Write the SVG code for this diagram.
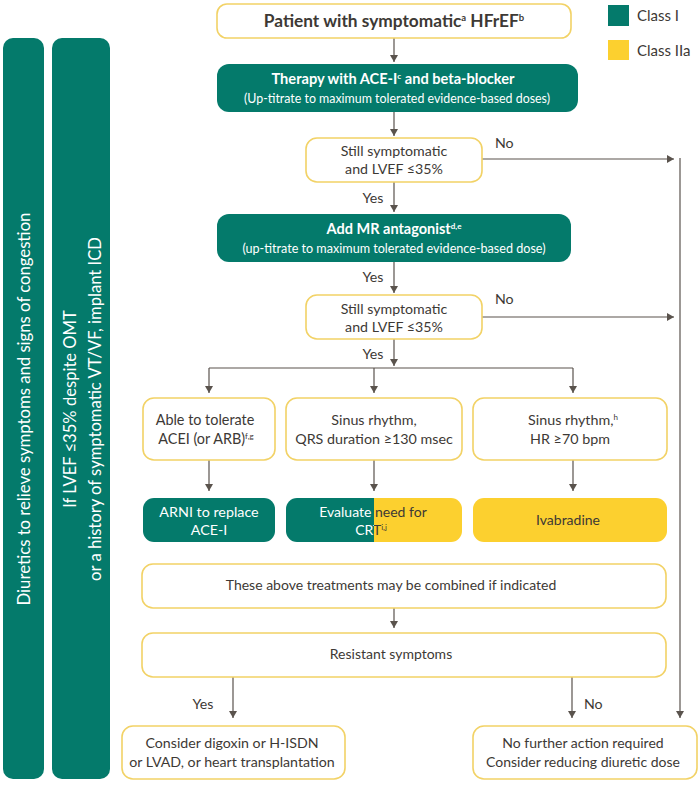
<svg xmlns="http://www.w3.org/2000/svg" width="700" height="786" viewBox="0 0 700 786" font-size="14.2">
<defs>
<style>
text{font-family:Lato,"Open Sans","DejaVu Sans",sans-serif;fill:#3d3935}
.b{font-weight:bold}
.w{fill:#ffffff}
.box{fill:#ffffff;stroke:#f2d266;stroke-width:1.6}
.g{fill:#047a6b}
.y{fill:#fcd02f}
.c{fill:none;stroke:#5a534d;stroke-width:1.2}
</style>
<marker id="ah" markerUnits="userSpaceOnUse" markerWidth="8" markerHeight="8" refX="4" refY="7" orient="0" viewBox="0 0 8 8">
<path d="M0,0 L8,0 L4,7 Z" fill="#5a534d"/>
</marker>
<marker id="ar" markerUnits="userSpaceOnUse" markerWidth="8" markerHeight="8" refX="7" refY="4" orient="0" viewBox="0 0 8 8">
<path d="M0,0 L7,4 L0,8 Z" fill="#5a534d"/>
</marker>
<clipPath id="evalclip"><rect x="286" y="498" width="176" height="44" rx="11"/></clipPath>
<clipPath id="leftc"><rect x="280" y="490" width="94" height="60"/></clipPath>
<clipPath id="rightc"><rect x="374" y="490" width="100" height="60"/></clipPath>
</defs>

<g id="legend">
<rect x="608" y="5" width="21" height="21" class="g"/>
<text x="637" y="21" font-size="15">Class I</text>
<rect x="608" y="40" width="21" height="20" class="y"/>
<text x="637" y="56" font-size="15">Class IIa</text>
</g>

<g id="bar-diuretics">
<rect x="3" y="38" width="41" height="741" rx="10" class="g"/>
<text class="w" transform="translate(29.5,409) rotate(-90)" text-anchor="middle" font-size="16.7">Diuretics to relieve symptoms and signs of congestion</text>
</g>

<g id="bar-icd">
<rect x="52" y="38" width="58" height="741" rx="10" class="g"/>
<text class="w" transform="translate(75.5,409) rotate(-90)" text-anchor="middle" font-size="16.6">If LVEF ≤35% despite OMT</text>
<text class="w" transform="translate(100.5,409) rotate(-90)" text-anchor="middle" font-size="16.6">or a history of symptomatic VT/VF, implant ICD</text>
</g>

<g id="connectors">
<line x1="394" y1="38" x2="394" y2="62" class="c" marker-end="url(#ah)"/>
<line x1="394" y1="112" x2="394" y2="136" class="c" marker-end="url(#ah)"/>
<line x1="394" y1="182" x2="394" y2="212" class="c" marker-end="url(#ah)"/>
<line x1="482" y1="159" x2="674" y2="159" class="c" marker-end="url(#ar)"/>
<line x1="680" y1="158" x2="680" y2="718" class="c" marker-end="url(#ah)"/>
<line x1="394" y1="262" x2="394" y2="293" class="c" marker-end="url(#ah)"/>
<line x1="482" y1="317" x2="674" y2="317" class="c" marker-end="url(#ar)"/>
<line x1="394" y1="339" x2="394" y2="366" class="c" marker-end="url(#ah)"/>
<line x1="209" y1="368" x2="573" y2="368" class="c"/>
<line x1="209" y1="368" x2="209" y2="393" class="c" marker-end="url(#ah)"/>
<line x1="374" y1="368" x2="374" y2="393" class="c" marker-end="url(#ah)"/>
<line x1="573" y1="368" x2="573" y2="393" class="c" marker-end="url(#ah)"/>
<line x1="209" y1="460" x2="209" y2="491" class="c" marker-end="url(#ah)"/>
<line x1="374" y1="460" x2="374" y2="491" class="c" marker-end="url(#ah)"/>
<line x1="573" y1="460" x2="573" y2="491" class="c" marker-end="url(#ah)"/>
<line x1="394" y1="608" x2="394" y2="628" class="c" marker-end="url(#ah)"/>
<line x1="233" y1="677" x2="233" y2="718" class="c" marker-end="url(#ah)"/>
<line x1="572" y1="677" x2="572" y2="718" class="c" marker-end="url(#ah)"/>
<text x="495" y="148">No</text>
<text x="495" y="304">No</text>
<text x="373" y="203" text-anchor="middle">Yes</text>
<text x="373" y="282" text-anchor="middle">Yes</text>
<text x="373" y="359" text-anchor="middle">Yes</text>
<text x="203" y="709" text-anchor="middle">Yes</text>
<text x="584" y="709">No</text>
</g>

<g id="start">
<rect x="217" y="4" width="354" height="34" rx="10" class="box"/>
<text x="394" y="27" text-anchor="middle" class="b" font-size="17.3">Patient with symptomatic<tspan font-size="9.5" dy="-6">a</tspan><tspan dy="6"> HFrEF</tspan><tspan font-size="9.5" dy="-6">b</tspan></text>
</g>

<g id="therapy">
<rect x="217" y="64" width="361" height="48" rx="12" class="g"/>
<text x="393" y="84" text-anchor="middle" class="b w" font-size="14.6">Therapy with ACE-I<tspan font-size="8" dy="-5" class="w">c</tspan><tspan dy="5" class="w"> and beta-blocker</tspan></text>
<text x="397" y="103" text-anchor="middle" class="w" font-size="12.4">(Up-titrate to maximum tolerated evidence-based doses)</text>
</g>

<g id="decision1">
<rect x="306" y="138" width="176" height="44" rx="11" class="box"/>
<text x="394" y="156" text-anchor="middle">Still symptomatic</text>
<text x="394" y="174" text-anchor="middle">and LVEF ≤35%</text>
</g>

<g id="mra">
<rect x="217" y="214" width="354" height="48" rx="12" class="g"/>
<text x="394" y="234" text-anchor="middle" class="b w" font-size="14.5">Add MR antagonist<tspan font-size="8" dy="-5" class="w">d,e</tspan></text>
<text x="394" y="253" text-anchor="middle" class="w" font-size="12.6">(up-titrate to maximum tolerated evidence-based dose)</text>
</g>

<g id="decision2">
<rect x="306" y="295" width="176" height="44" rx="11" class="box"/>
<text x="394" y="314" text-anchor="middle">Still symptomatic</text>
<text x="394" y="332" text-anchor="middle">and LVEF ≤35%</text>
</g>

<g id="tolerate">
<rect x="143" y="398" width="132" height="62" rx="11" class="box"/>
<text x="205" y="425" text-anchor="middle" font-size="14.4">Able to tolerate</text>
<text x="206" y="444" text-anchor="middle" font-size="14.4">ACEI (or ARB)<tspan font-size="8" dy="-5">f,g</tspan></text>
</g>

<g id="qrs">
<rect x="286" y="398" width="176" height="62" rx="11" class="box"/>
<text x="374" y="425" text-anchor="middle" font-size="14.3">Sinus rhythm,</text>
<text x="374" y="444" text-anchor="middle" font-size="14.3">QRS duration ≥130 msec</text>
</g>

<g id="hr">
<rect x="473" y="398" width="194" height="62" rx="11" class="box"/>
<text x="573" y="425" text-anchor="middle" font-size="14.3">Sinus rhythm,<tspan font-size="8" dy="-5">h</tspan></text>
<text x="570" y="444" text-anchor="middle" font-size="14.3">HR ≥70 bpm</text>
</g>

<g id="arni">
<rect x="143" y="498" width="132" height="44" rx="11" class="g"/>
<text x="209" y="517" text-anchor="middle" class="w" font-size="14.3">ARNI to replace</text>
<text x="209" y="535" text-anchor="middle" class="w" font-size="14.3">ACE-I</text>
</g>

<g id="crt">
<g clip-path="url(#evalclip)">
<rect x="286" y="498" width="88" height="44" class="g"/>
<rect x="374" y="498" width="88" height="44" class="y"/>
</g>
<g clip-path="url(#leftc)">
<text x="373" y="517" text-anchor="middle" class="w" font-size="14">Evaluate need for</text>
<text x="371" y="535" text-anchor="middle" class="w" font-size="14">CRT<tspan font-size="8" dy="-5" class="w">i,j</tspan></text>
</g>
<g clip-path="url(#rightc)">
<text x="373" y="517" text-anchor="middle" font-size="14">Evaluate need for</text>
<text x="371" y="535" text-anchor="middle" font-size="14">CRT<tspan font-size="8" dy="-5">i,j</tspan></text>
</g>
</g>

<g id="ivabradine">
<rect x="473" y="498" width="194" height="44" rx="11" class="y"/>
<text x="568" y="525" text-anchor="middle" font-size="14">Ivabradine</text>
</g>

<g id="combined">
<rect x="142" y="564" width="524" height="44" rx="11" class="box"/>
<text x="391" y="590" text-anchor="middle" font-size="14">These above treatments may be combined if indicated</text>
</g>

<g id="resistant">
<rect x="142" y="633" width="524" height="44" rx="11" class="box"/>
<text x="391" y="659" text-anchor="middle" font-size="14">Resistant symptoms</text>
</g>

<g id="digoxin">
<rect x="122" y="726" width="223" height="53" rx="11" class="box"/>
<text x="232" y="748" text-anchor="middle">Consider digoxin or H-ISDN</text>
<text x="232" y="767" text-anchor="middle">or LVAD, or heart transplantation</text>
</g>

<g id="nofurther">
<rect x="473" y="726" width="224" height="53" rx="11" class="box"/>
<text x="583" y="748" text-anchor="middle" font-size="14">No further action required</text>
<text x="583" y="767" text-anchor="middle" font-size="14">Consider reducing diuretic dose</text>
</g>
</svg>
